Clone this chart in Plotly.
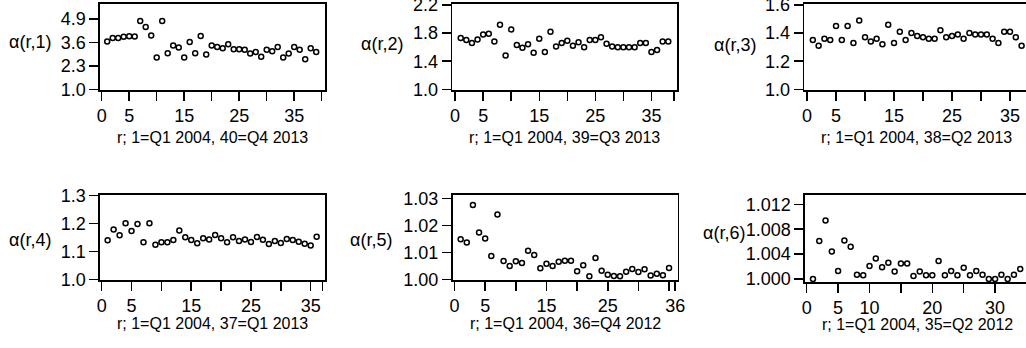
import plotly.graph_objects as go

W, H = 1026, 348

# ---- data: alpha(r, k) ----
alpha1 = [3.65, 3.84, 3.85, 3.91, 3.94, 3.93, 4.79, 4.46, 3.98, 2.76,
          4.79, 3.00, 3.43, 3.32, 2.76, 3.63, 3.00, 3.96, 2.93, 3.43,
          3.35, 3.28, 3.50, 3.22, 3.22, 3.19, 2.98, 3.07, 2.80, 3.19,
          3.11, 3.35, 2.76, 2.98, 3.35, 3.19, 2.67, 3.28, 3.07]
alpha2 = [1.73, 1.70, 1.66, 1.71, 1.78, 1.79, 1.68, 1.92, 1.48, 1.85,
          1.63, 1.59, 1.64, 1.52, 1.72, 1.53, 1.82, 1.61, 1.66, 1.69,
          1.62, 1.67, 1.60, 1.70, 1.70, 1.74, 1.65, 1.61, 1.60, 1.60,
          1.60, 1.60, 1.66, 1.66, 1.53, 1.56, 1.68, 1.68]
alpha3 = [1.35, 1.31, 1.36, 1.35, 1.45, 1.35, 1.45, 1.33, 1.49, 1.37,
          1.34, 1.36, 1.32, 1.46, 1.33, 1.41, 1.35, 1.40, 1.38, 1.37,
          1.36, 1.36, 1.42, 1.37, 1.38, 1.39, 1.36, 1.40, 1.39, 1.39,
          1.39, 1.36, 1.33, 1.41, 1.41, 1.37, 1.31]
alpha4 = [1.140, 1.179, 1.158, 1.201, 1.173, 1.198, 1.133, 1.201, 1.124, 1.133,
          1.133, 1.141, 1.175, 1.151, 1.141, 1.129, 1.147, 1.143, 1.159, 1.147,
          1.133, 1.151, 1.137, 1.143, 1.134, 1.152, 1.142, 1.127, 1.137, 1.130,
          1.145, 1.141, 1.135, 1.128, 1.121, 1.153]
alpha5 = [1.0148, 1.0136, 1.0275, 1.0173, 1.0151, 1.0086, 1.0240, 1.0068, 1.0049, 1.0067,
          1.0060, 1.0106, 1.0090, 1.0041, 1.0058, 1.0049, 1.0065, 1.0069, 1.0069, 1.0030,
          1.0052, 1.0011, 1.0079, 1.0032, 1.0017, 1.0012, 1.0011, 1.0028, 1.0038, 1.0027,
          1.0037, 1.0014, 1.0021, 1.0015, 1.0042]
alpha6 = [1.0000, 1.0061, 1.0094, 1.0044, 1.0013, 1.0062, 1.0052, 1.0007, 1.0006, 1.0021,
          1.0033, 1.0019, 1.0026, 1.0012, 1.0025, 1.0025, 1.0005, 1.0012, 1.0006, 1.0006,
          1.0029, 1.0006, 1.0013, 1.0006, 1.0018, 1.0006, 1.0013, 1.0007, 1.0000, 1.0000,
          1.0007, 1.0000, 1.0007, 1.0016]

# ---- tick values / labels ----
xt1 = [0, 5, 10, 15, 20, 25, 30, 35, 40]
xl1 = ["0", "5", "", "15", "", "25", "", "35", ""]
xt2 = [0, 5, 10, 15, 20, 25, 30, 35, 39]
xl2 = ["0", "5", "", "15", "", "25", "", "35", ""]
xt3 = [0, 5, 10, 15, 20, 25, 30, 35, 38]
xl3 = ["0", "5", "", "15", "", "25", "", "35", ""]
xt4 = [0, 5, 10, 15, 20, 25, 30, 35, 37]
xl4 = ["0", "5", "", "15", "", "25", "", "35", ""]
xt5 = [0, 5, 10, 15, 20, 25, 30, 35, 36]
xl5 = ["0", "5", "", "15", "", "25", "", "", "36"]
xt6 = [0, 5, 10, 15, 20, 25, 30, 35]
xl6 = ["0", "5", "10", "", "20", "", "30", ""]

yt1 = [1.0, 2.3, 3.6, 4.9]
yl1 = ["1.0", "2.3", "3.6", "4.9"]
yt2 = [1.0, 1.4, 1.8, 2.2]
yl2 = ["1.0", "1.4", "1.8", "2.2"]
yt3 = [1.0, 1.2, 1.4, 1.6]
yl3 = ["1.0", "1.2", "1.4", "1.6"]
yt4 = [1.0, 1.1, 1.2, 1.3]
yl4 = ["1.0", "1.1", "1.2", "1.3"]
yt5 = [1.00, 1.01, 1.02, 1.03]
yl5 = ["1.00", "1.01", "1.02", "1.03"]
yt6 = [1.000, 1.004, 1.008, 1.012]
yl6 = ["1.000", "1.004", "1.008", "1.012"]

ylabs = ["α(r,1)", "α(r,2)", "α(r,3)", "α(r,4)", "α(r,5)", "α(r,6)"]
xlabs = ["r; 1=Q1 2004, 40=Q4 2013", "r; 1=Q1 2004, 39=Q3 2013",
         "r; 1=Q1 2004, 38=Q2 2013", "r; 1=Q1 2004, 37=Q1 2013",
         "r; 1=Q1 2004, 36=Q4 2012", "r; 1=Q1 2004, 35=Q2 2012"]

# ---- layout of panels (pixels) ----
panels = [
    dict(v=alpha1, xt=xt1, xl=xl1, yt=yt1, yl=yl1, L=100, R=325, T=4, B=90,
         xr=[-0.31, 40.6], yr=[0.961, 5.732], ylx=30, yly=42, xly=137.5, mir=True),
    dict(v=alpha2, xt=xt2, xl=xl2, yt=yt2, yl=yl2, L=452.3, R=677.3, T=4, B=90,
         xr=[-0.50, 39.61], yr=[0.990, 2.214], ylx=381.5, yly=44, xly=137.5, mir=True),
    dict(v=alpha3, xt=xt3, xl=xl3, yt=yt3, yl=yl3, L=804.3, R=1026, T=4, B=90,
         xr=[-0.47, 37.76], yr=[0.995, 1.607], ylx=735, yly=45, xly=137.5, mir=False),
    dict(v=alpha4, xt=xt4, xl=xl4, yt=yt4, yl=yl4, L=100, R=325, T=195, B=280,
         xr=[-0.28, 37.4], yr=[0.9975, 1.3025], ylx=30, yly=240, xly=323.5, mir=True),
    dict(v=alpha5, xt=xt5, xl=xl5, yt=yt5, yl=yl5, L=452.5, R=677.5, T=195, B=280,
         xr=[-0.33, 36.38], yr=[0.99974, 1.03122], ylx=370.6, yly=240, xly=323.5, mir=True),
    dict(v=alpha6, xt=xt6, xl=xl6, yt=yt6, yl=yl6, L=805, R=1026, T=195, B=282,
         xr=[-0.27, 34.92], yr=[0.99952, 1.01349], ylx=724, yly=233, xly=324.5, mir=False),
]

FONT = "Liberation Sans, Arial, Helvetica, sans-serif"
fig = go.Figure()
ann = []
lay = {}
for i, p in enumerate(panels, start=1):
    sfx = "" if i == 1 else str(i)
    r = list(range(1, len(p["v"]) + 1))
    fig.add_trace(go.Scatter(
        x=r, y=p["v"], mode="markers",
        xaxis="x" + sfx, yaxis="y" + sfx, showlegend=False,
        marker=dict(symbol="circle-open", size=5, color="black",
                    line=dict(width=1.5, color="black")),
        cliponaxis=False, hoverinfo="skip"))
    lay["xaxis" + sfx] = dict(
        domain=[p["L"] / W, min(p["R"] / W, 1.0)], range=p["xr"],
        anchor="y" + sfx, showgrid=False, zeroline=False, automargin=False,
        showline=True, linecolor="black", linewidth=1.6, mirror=True,
        ticks="outside", ticklen=9, tickwidth=1.5, tickcolor="black",
        tickmode="array", tickvals=p["xt"], ticktext=p["xl"],
        ticklabeloverflow="allow",
        tickfont=dict(family=FONT, size=18, color="black"))
    lay["yaxis" + sfx] = dict(
        domain=[1 - p["B"] / H, 1 - p["T"] / H], range=p["yr"],
        anchor="x" + sfx, showgrid=False, zeroline=False, automargin=False,
        showline=True, linecolor="black", linewidth=1.6, mirror=p["mir"],
        ticks="outside", ticklen=9, tickwidth=1.5, tickcolor="black",
        tickmode="array", tickvals=p["yt"], ticktext=p["yl"],
        ticklabeloverflow="allow",
        tickfont=dict(family=FONT, size=18, color="black"))
    ann.append(dict(text=ylabs[i - 1], x=p["ylx"] / W, y=1 - p["yly"] / H,
                    xref="paper", yref="paper", showarrow=False,
                    xanchor="center", yanchor="middle",
                    font=dict(family=FONT, size=18, color="black")))
    ann.append(dict(text=xlabs[i - 1], x=(p["L"] + 112.5) / W, y=1 - p["xly"] / H,
                    xref="paper", yref="paper", showarrow=False,
                    xanchor="center", yanchor="middle",
                    font=dict(family=FONT, size=16, color="black")))

fig.update_layout(width=W, height=H, margin=dict(l=0, r=0, t=0, b=0),
                  paper_bgcolor="white", plot_bgcolor="white",
                  hovermode=False, annotations=ann, **lay)
fig.write_html("out.html",
               config={"displayModeBar": False, "staticPlot": True},
               post_script="document.body.style.margin='0';"
                           "document.body.style.overflow='hidden';")
